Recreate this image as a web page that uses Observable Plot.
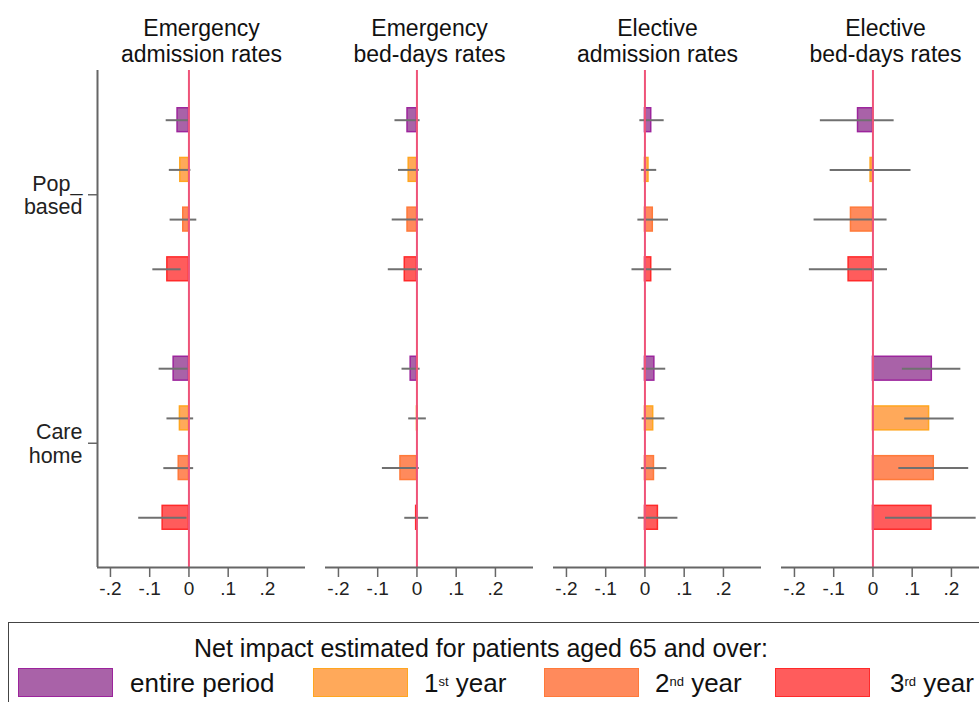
<!DOCTYPE html>
<html><head><meta charset="utf-8">
<script src="https://cdn.jsdelivr.net/npm/d3@7"></script>
<script src="https://cdn.jsdelivr.net/npm/@observablehq/plot@0.6"></script>
<style>
html,body{margin:0;padding:0;background:#fff;overflow:hidden}
#wrap{position:relative;width:979px;height:702px;overflow:hidden;font-family:"Liberation Sans",Arial,sans-serif;color:#111}
#chart{position:absolute;left:0;top:0;width:1000px}
#chart svg{max-width:none !important}
#legend{position:absolute;left:8px;top:622px;width:1100px;height:140px;border:1.5px solid #444;box-sizing:border-box}
#ltitle{position:absolute;left:0;top:635px;width:962px;text-align:center;font-size:25px;line-height:26px;color:#111;white-space:nowrap}
.sw{position:absolute;top:668px;width:95px;height:29px;box-sizing:border-box;border:1.5px solid}
.lb{position:absolute;top:668px;font-size:26px;line-height:31px;color:#111;white-space:nowrap}
.lb sup{font-size:13px;vertical-align:top;position:relative;top:-2px}
</style></head>
<body><div id="wrap"><div id="chart"></div><div id="legend"></div><div id="ltitle"></div></div>
<script>
// ---- data ----
const measures = ["Emergency\nadmission rates", "Emergency\nbed-days rates", "Elective\nadmission rates", "Elective\nbed-days rates"];
const groups = ["Pop_\nbased", "Care\nhome"];
const periods = ["entire period", "1st year", "2nd year", "3rd year"];
const legendTitle = "Net impact estimated for patients aged 65 and over:";
const xTicks = [-0.2, -0.1, 0, 0.1, 0.2];

// order: Pop-based (entire, 1st, 2nd, 3rd), Care home (entire, 1st, 2nd, 3rd)
const emergAdmEst = [-0.029, -0.022, -0.0145, -0.055, -0.039, -0.023, -0.026, -0.067];
const emergAdmLo  = [-0.058, -0.050, -0.048, -0.092, -0.076, -0.056, -0.064, -0.128];
const emergAdmHi  = [-0.001, 0.005, 0.020, -0.020, -0.002, 0.012, 0.012, -0.005];

const emergBedEst = [-0.024, -0.021, -0.024, -0.031, -0.016, 0.002, -0.042, -0.002];
const emergBedLo  = [-0.056, -0.047, -0.063, -0.073, -0.038, -0.021, -0.088, -0.031];
const emergBedHi  = [0.008, 0.006, 0.017, 0.014, 0.008, 0.024, 0.006, 0.030];

const electAdmEst = [0.016, 0.009, 0.020, 0.016, 0.024, 0.021, 0.023, 0.033];
const electAdmLo  = [-0.013, -0.009, -0.018, -0.033, -0.007, -0.007, -0.009, -0.017];
const electAdmHi  = [0.049, 0.030, 0.060, 0.068, 0.053, 0.051, 0.056, 0.084];

const electBedEst = [-0.038, -0.006, -0.056, -0.062, 0.150, 0.143, 0.155, 0.149];
const electBedLo  = [-0.134, -0.109, -0.150, -0.162, 0.075, 0.081, 0.066, 0.032];
const electBedHi  = [0.054, 0.097, 0.036, 0.037, 0.224, 0.207, 0.244, 0.263];

const fills   = ["#a962a8", "#ffa95a", "#ff8a5c", "#ff5c5c"];
const strokes = ["#9c249c", "#ffa620", "#ff7a3a", "#ff2a2a"];

// ---- build table ----
const series = [
  [emergAdmEst, emergAdmLo, emergAdmHi],
  [emergBedEst, emergBedLo, emergBedHi],
  [electAdmEst, electAdmLo, electAdmHi],
  [electBedEst, electBedLo, electBedHi]
];
const rows = [];
series.forEach(([est, lo, hi], m) => {
  est.forEach((v, i) => {
    const g = Math.floor(i / periods.length), p = i % periods.length;
    rows.push({measure: measures[m], group: groups[g], period: periods[p],
      slot: g * (periods.length + 1) + p, est: v, lo: lo[i], hi: hi[i]});
  });
});
const groupTicks = groups.map((g, i) => i * (periods.length + 1) + (periods.length - 1) / 2);
const xDomain = [-0.233, 0.297];
const yDomain = [-1, 9];
const half = 0.24;
const fmt = d => d === 0 ? "0" : String(d).replace("0.", ".");

const marks = [];
periods.forEach((p, i) => {
  marks.push(Plot.rect(rows.filter(d => d.period === p), {
    fx: "measure", x1: () => 0, x2: "est",
    y1: d => d.slot - half, y2: d => d.slot + half,
    fill: fills[i], stroke: strokes[i], strokeWidth: 1.5
  }));
});
marks.push(
  Plot.ruleY(rows, {fx: "measure", y: "slot", x1: "lo", x2: "hi", stroke: "#707070", strokeWidth: 2}),
  Plot.ruleX([0], {stroke: "#ef5379", strokeWidth: 2}),
  Plot.ruleY([yDomain[1]], {stroke: "#666", strokeWidth: 2}),
  Plot.ruleX([xDomain[0]], {fx: () => measures[0], stroke: "#666", strokeWidth: 2}),
  Plot.axisX({ticks: xTicks, tickFormat: fmt, tickSize: 10, tickPadding: 4, fontSize: 19, stroke: "#666", fill: "#222", strokeWidth: 1.5, label: null}),
  Plot.axisY({ticks: groupTicks, tickFormat: d => groups[groupTicks.indexOf(d)], tickSize: 9, tickPadding: 6, fontSize: 21.5, lineHeight: 1.1, stroke: "#666", fill: "#222", strokeWidth: 1.5, label: null}),
  Plot.text(measures, {fx: d => d, text: d => d, frameAnchor: "top", dy: -9, lineAnchor: "bottom", fontSize: 23, lineHeight: 1.13, fill: "#111"})
);

const chart = Plot.plot({
  width: 1000, height: 610,
  marginTop: 70, marginBottom: 43, marginLeft: 97, marginRight: 11,
  style: {fontFamily: "'Liberation Sans', Arial, sans-serif", background: "transparent", overflow: "visible", maxWidth: "none"},
  fx: {domain: measures, paddingInner: 20 / 228, paddingOuter: 0, axis: null, label: null},
  x: {domain: xDomain},
  y: {domain: yDomain, reverse: true},
  marks
});
document.getElementById("chart").appendChild(chart);

// ---- legend ----
document.getElementById("ltitle").textContent = legendTitle;
const swLeft = [18, 313, 544, 775];
const lbLeft = [130, 424, 655, 890];
const wrap = document.getElementById("wrap");
periods.forEach((p, i) => {
  const s = document.createElement("div");
  s.className = "sw"; s.style.left = swLeft[i] + "px";
  s.style.background = fills[i]; s.style.borderColor = strokes[i];
  wrap.appendChild(s);
  const l = document.createElement("div");
  l.className = "lb"; l.style.left = lbLeft[i] + "px";
  l.innerHTML = p.replace(/^(\d)(st|nd|rd)/, "$1<sup>$2</sup>");
  wrap.appendChild(l);
});
</script></body></html>
